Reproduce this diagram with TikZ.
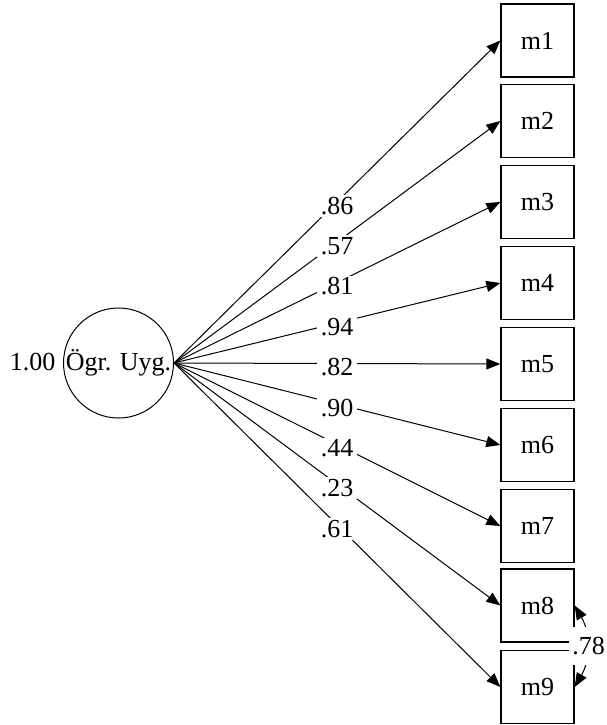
\documentclass[tikz,border=0pt]{standalone}
\usepackage{fontspec}
\setmainfont{Liberation Serif}
\usetikzlibrary{arrows.meta}

\begin{document}
\begin{tikzpicture}[x=1pt, y=-1pt, line width=1pt, font=\fontsize{26}{31}\selectfont]
  \tikzstyle{latent}=[circle, draw, minimum size=110pt, inner sep=0pt]
  \tikzstyle{item}=[rectangle, draw, line width=1.3pt, minimum size=73pt, inner sep=0pt]
  \tikzstyle{load}=[-{Triangle[length=14pt, width=11pt]}]
  \tikzstyle{coef}=[fill=white, inner xsep=4pt, inner ysep=2pt, yshift=-4pt]
  \useasboundingbox (0,0) rectangle (606,725);

  \node[latent] (OU) at (118.5,363) {Ögr. Uyg.};
  \node (OU_var) at (32.5,362) {1.00};

  \node[item] (m1) at (537.5,40.5) {m1};
  \node[item] (m2) at (537.5,121)  {m2};
  \node[item] (m3) at (537.5,202)  {m3};
  \node[item] (m4) at (537.5,283)  {m4};
  \node[item] (m5) at (537.5,364)  {m5};
  \node[item] (m6) at (537.5,445)  {m6};
  \node[item] (m7) at (537.5,526)  {m7};
  \node[item] (m8) at (537.5,605.5) {m8};
  \node[item] (m9) at (537.5,687)  {m9};

  % factor loadings
  \draw[load] (OU.east) -- node[coef] {.86} (m1.west);
  \draw[load] (OU.east) -- node[coef] {.57} (m2.west);
  \draw[load] (OU.east) -- node[coef] {.81} (m3.west);
  \draw[load] (OU.east) -- node[coef] {.94} (m4.west);
  \draw[load] (OU.east) -- node[coef] {.82} (m5.west);
  \draw[load] (OU.east) -- node[coef] {.90} (m6.west);
  \draw[load] (OU.east) -- node[coef] {.44} (m7.west);
  \draw[load] (OU.east) -- node[coef] {.23} (m8.west);
  \draw[load] (OU.east) -- node[coef] {.61} (m9.west);

  % residual covariance m8 - m9
  \draw[{Triangle[length=14pt, width=11pt]}-{Triangle[length=14pt, width=11pt]}]
    (m8.east) to[out=-60, in=60]
    node[fill=white, inner xsep=3pt, inner ysep=10pt, xshift=2pt] {.78} (m9.east);
\end{tikzpicture}
\end{document}
